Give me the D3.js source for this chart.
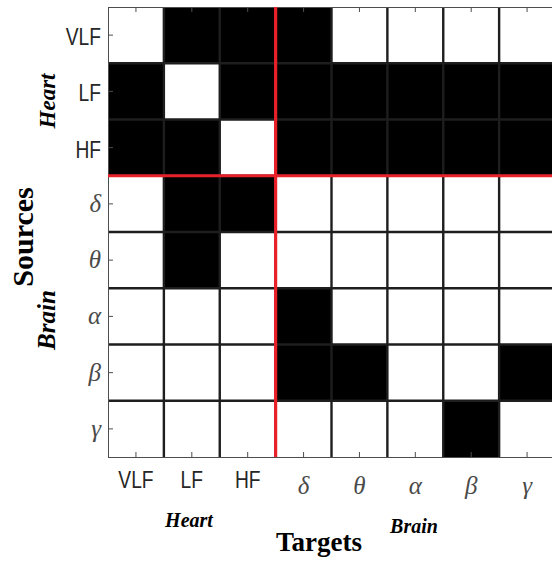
<!DOCTYPE html>
<html>
<head>
<meta charset="utf-8">
<script src="https://cdn.jsdelivr.net/npm/d3@7"></script>
<style>
  html, body { margin: 0; padding: 0; background: #fff; }
  svg { display: block; }
</style>
</head>
<body>
<svg id="chart" width="552" height="565"></svg>
<script>
// Frequency bands: three heart-rate bands followed by five EEG bands
const bands = ["VLF", "LF", "HF", "δ", "θ", "α", "β", "γ"];
const greekBands = ["δ", "θ", "α", "β", "γ"];
const groupSplit = 3; // first three bands belong to the heart

// Significant coupling (1) from source band (row) to target band (column)
const rowVLF   = [0, 1, 1, 1, 0, 0, 0, 0];
const rowLF    = [1, 0, 1, 1, 1, 1, 1, 1];
const rowHF    = [1, 1, 0, 1, 1, 1, 1, 1];
const rowDelta = [0, 1, 1, 0, 0, 0, 0, 0];
const rowTheta = [0, 1, 0, 0, 0, 0, 0, 0];
const rowAlpha = [0, 0, 0, 1, 0, 0, 0, 0];
const rowBeta  = [0, 0, 0, 1, 1, 0, 0, 1];
const rowGamma = [0, 0, 0, 0, 0, 0, 1, 0];
const matrix = [rowVLF, rowLF, rowHF, rowDelta, rowTheta, rowAlpha, rowBeta, rowGamma];

const svg = d3.select("#chart");
const plotL = 108, plotT = 7, plotR = 555, plotB = 457;

const x = d3.scaleBand().domain(bands).range([plotL, plotR]).padding(0);
const y = d3.scaleBand().domain(bands).range([plotT, plotB]).padding(0);

const cells = [];
matrix.forEach((row, i) => row.forEach((v, j) => cells.push({src: bands[i], tgt: bands[j], v})));

svg.append("g").selectAll("rect").data(cells).join("rect")
  .attr("x", d => x(d.tgt))
  .attr("y", d => y(d.src))
  .attr("width", x.bandwidth())
  .attr("height", y.bandwidth())
  .attr("fill", d => d.v ? "#000" : "#fff");

// Cell borders
const grid = svg.append("g").attr("stroke", "#1e1e1e").attr("stroke-width", 2.4);
bands.slice(1).forEach(b => {
  grid.append("line").attr("x1", x(b)).attr("x2", x(b)).attr("y1", plotT).attr("y2", plotB);
  grid.append("line").attr("x1", plotL).attr("x2", plotR).attr("y1", y(b)).attr("y2", y(b));
});

// Axis box with inward ticks at band centres
const box = svg.append("g").attr("stroke", "#4d4d4d").attr("stroke-width", 1).attr("fill", "none");
box.append("rect").attr("x", plotL + 0.5).attr("y", plotT + 0.5)
  .attr("width", plotR - plotL).attr("height", plotB - plotT);
bands.forEach(b => {
  const cx = x(b) + x.bandwidth() / 2;
  const cy = y(b) + y.bandwidth() / 2;
  box.append("line").attr("x1", cx).attr("x2", cx).attr("y1", plotT).attr("y2", plotT + 5);
  box.append("line").attr("x1", cx).attr("x2", cx).attr("y1", plotB).attr("y2", plotB - 5);
  box.append("line").attr("x1", plotL).attr("x2", plotL + 5).attr("y1", cy).attr("y2", cy);
});

// Heart / brain separators
const split = bands[groupSplit];
svg.append("line").attr("x1", x(split)).attr("x2", x(split)).attr("y1", plotT).attr("y2", plotB)
  .attr("stroke", "#e8202a").attr("stroke-width", 3.2);
svg.append("line").attr("x1", plotL).attr("x2", plotR).attr("y1", y(split)).attr("y2", y(split))
  .attr("stroke", "#e8202a").attr("stroke-width", 3.2);

// Tick labels
function tickLabel(g, b, px, py, anchor) {
  const isGreek = greekBands.includes(b);
  const t = g.append("text")
    .attr("transform", isGreek ? `translate(${px},${py})` : `translate(${px},${py}) scale(0.8,1)`)
    .attr("text-anchor", anchor)
    .text(b);
  if (isGreek) {
    t.attr("font-family", "'Liberation Serif', serif").attr("font-style", "italic")
      .attr("font-size", 25).attr("fill", "#4a4a4a");
  } else {
    t.attr("font-family", "'Liberation Sans', Arial, sans-serif")
      .attr("font-size", 24).attr("fill", "#262626");
  }
}
const labels = svg.append("g");
bands.forEach(b => {
  const isGreek = greekBands.includes(b);
  const cy = y(b) + y.bandwidth() / 2;
  tickLabel(labels, b, 101, cy + (isGreek ? 8 : 10), "end");
  const cx = x(b) + x.bandwidth() / 2;
  tickLabel(labels, b, cx, isGreek ? 494 : 488, "middle");
});

// Group and axis titles
const serif = "'Liberation Serif', 'Times New Roman', serif";
svg.append("text").attr("x", 189).attr("y", 527).attr("text-anchor", "middle")
  .attr("font-family", serif).attr("font-weight", "bold").attr("font-style", "italic")
  .attr("font-size", 20).text("Heart");
svg.append("text").attr("x", 414).attr("y", 533).attr("text-anchor", "middle")
  .attr("font-family", serif).attr("font-weight", "bold").attr("font-style", "italic")
  .attr("font-size", 20).text("Brain");
svg.append("text").attr("x", 319).attr("y", 551).attr("text-anchor", "middle")
  .attr("font-family", serif).attr("font-weight", "bold")
  .attr("font-size", 27).text("Targets");

svg.append("text").attr("transform", "translate(55,101) rotate(-90)").attr("text-anchor", "middle")
  .attr("font-family", serif).attr("font-weight", "bold").attr("font-style", "italic")
  .attr("font-size", 23).text("Heart");
svg.append("text").attr("transform", "translate(55,320) rotate(-90)").attr("text-anchor", "middle")
  .attr("font-family", serif).attr("font-weight", "bold").attr("font-style", "italic")
  .attr("font-size", 25).text("Brain");
svg.append("text").attr("transform", "translate(33,237) rotate(-90)").attr("text-anchor", "middle")
  .attr("font-family", serif).attr("font-weight", "bold")
  .attr("font-size", 30).text("Sources");
</script>
</body>
</html>
